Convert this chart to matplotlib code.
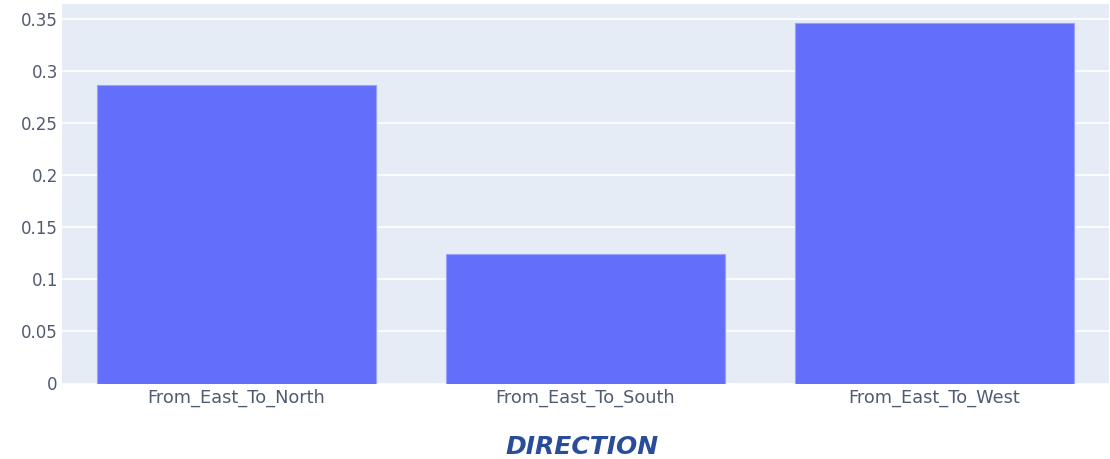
import matplotlib.pyplot as plt

categories = ['From_East_To_North', 'From_East_To_South', 'From_East_To_West']
values = [0.287, 0.1245, 0.3466]
yticks = [0, 0.05, 0.1, 0.15, 0.2, 0.25, 0.3, 0.35]
ytick_labels = ['0', '0.05', '0.1', '0.15', '0.2', '0.25', '0.3', '0.35']

plt.rcParams['font.family'] = ['DejaVu Sans']

fig = plt.figure(figsize=(11.1, 4.59), dpi=100)
ax = fig.add_axes([62 / 1110, 1 - 383.5 / 459, (1109 - 62) / 1110, (383.5 - 4) / 459])
ax.set_facecolor('#e5ecf6')

x = range(len(categories))
ax.bar(x, values, width=0.8, color='#636efa', edgecolor='#9aa1fb', linewidth=0.8, zorder=3)

ax.set_xlim(-0.5, len(categories) - 0.5)
ax.set_ylim(0, 0.3649)
ax.set_yticks(yticks)
ax.set_yticklabels(ytick_labels)
ax.set_xticks(list(x))
ax.set_xticklabels(categories)
ax.grid(axis='y', color='white', linewidth=1.2, zorder=0)
ax.set_axisbelow(True)
for s in ax.spines.values():
    s.set_visible(False)
ax.tick_params(axis='both', length=0, labelsize=12, labelcolor='#4f5b70')
ax.tick_params(axis='x', labelsize=12.8, pad=4)
ax.tick_params(axis='y', pad=3)

fig.text(582 / 1110, 1 - 447 / 459, 'DIRECTION', ha='center', va='center',
         fontsize=18, fontweight='bold', fontstyle='italic', color='#2a4d9b')

fig.savefig('out.png', dpi=100)
